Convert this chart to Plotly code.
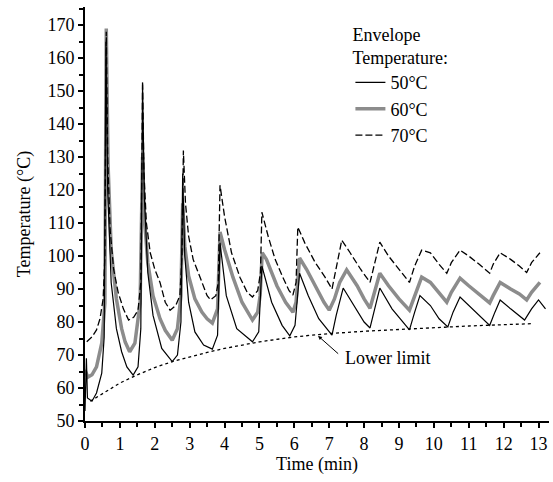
import plotly.graph_objects as go

# values (time in min, temperature in °C)
t50 = [0, 0.04, 0.07, 0.2, 0.33, 0.48, 0.55, 0.6, 0.65, 0.75, 0.9, 1.05, 1.2, 1.38, 1.52, 1.6, 1.65, 1.7,
       1.8, 1.95, 2.2, 2.5, 2.65, 2.75, 2.8, 2.86, 2.97, 3.15, 3.4, 3.65, 3.8, 3.87, 4.05, 4.35, 4.8,
       4.98, 5.07, 5.35, 5.65, 5.87, 6.02, 6.15, 6.4, 6.7, 7.08, 7.2, 7.4, 7.7, 8.0, 8.17, 8.3, 8.45,
       8.8, 9.3, 9.45, 9.6, 9.9, 10.15, 10.4, 10.55, 10.75, 11.0, 11.3, 11.6, 11.75, 11.9, 12.2, 12.45,
       12.6, 12.8, 13.0, 13.2]
temp50 = [53, 69, 57, 56, 58.5, 64.5, 75.5, 165, 120, 92, 78, 71, 66.4, 63.9, 66.4, 78, 152, 118,
          95, 82, 72, 68, 70, 80, 125, 100, 86, 77, 73, 71.8, 76, 104, 88, 78, 74,
          77, 97, 86, 79, 75.8, 79, 94.8, 88, 81, 76, 82, 90.3, 85, 80, 78.2, 84, 90.3,
          84, 77.6, 83, 88, 85, 81, 78.5, 83, 87.6, 85, 82, 79, 83, 86.7, 84, 82,
          80.6, 84, 86.7, 84]

t60 = [0, 0.08, 0.2, 0.33, 0.48, 0.57, 0.61, 0.66, 0.75, 0.9, 1.05, 1.15, 1.28, 1.43, 1.58, 1.65, 1.7,
       1.8, 1.95, 2.15, 2.3, 2.5, 2.65, 2.75, 2.8, 2.86, 2.97, 3.15, 3.35, 3.5, 3.65, 3.8, 3.87, 4.0,
       4.24, 4.5, 4.8, 4.95, 5.02, 5.08, 5.2, 5.5, 5.75, 5.96, 6.05, 6.15, 6.35, 6.6, 6.85, 7.0, 7.15,
       7.3, 7.5, 7.8, 8.0, 8.17, 8.3, 8.45, 8.7, 9.0, 9.3, 9.45, 9.65, 9.9, 10.15, 10.37, 10.5, 10.75,
       11.0, 11.3, 11.6, 11.7, 11.9, 12.2, 12.45, 12.66, 12.8, 13.04]
temp60 = [65.5, 63.3, 64, 66.4, 73.6, 85.8, 169, 128, 102, 87, 78, 74, 71, 73.6, 85.8, 130, 112,
          98, 88, 81, 77.5, 74.5, 78, 88, 116, 103, 94, 87, 83, 81, 79.7, 84, 107.3, 102,
          93.6, 86, 80.6, 83, 88, 101, 99, 91, 86, 83, 86, 99.4, 96, 91, 86, 83.6, 87,
          92, 95.8, 91, 87, 84.2, 89, 94.8, 91, 87, 83.6, 88, 93.6, 92, 89, 86, 89, 93.3,
          91, 88.5, 85.8, 88, 92, 90, 88.5, 86.7, 89, 92]

t70 = [0.05, 0.2, 0.33, 0.43, 0.52, 0.57, 0.61, 0.65, 0.72, 0.82, 0.95, 1.1, 1.25, 1.4, 1.52, 1.6, 1.65,
       1.69, 1.76, 1.87, 2.0, 2.15, 2.3, 2.44, 2.6, 2.72, 2.78, 2.82, 2.88, 2.97, 3.1, 3.3, 3.5, 3.6,
       3.75, 3.82, 3.87, 4.0, 4.2, 4.44, 4.65, 4.8, 4.95, 5.03, 5.07, 5.25, 5.45, 5.67, 5.85, 5.96,
       6.05, 6.1, 6.3, 6.6, 6.88, 7.08, 7.18, 7.36, 7.6, 7.9, 8.17, 8.3, 8.45, 8.7, 9.0, 9.3, 9.45,
       9.65, 9.9, 10.15, 10.37, 10.5, 10.75, 11.0, 11.3, 11.6, 11.7, 11.9, 12.2, 12.45, 12.66, 12.8, 13.04]
temp70 = [74, 75.5, 77.6, 81, 87, 100, 168, 130, 108, 96, 89, 84, 80.6, 81.5, 83.6, 92, 153,
          125, 110, 101, 96, 92, 86, 83.6, 85, 88, 100, 132, 116, 106, 99, 93.6, 88, 86.7,
          88, 92, 121.5, 112, 101, 93.6, 89, 87.6, 89.5, 95, 113.3, 106, 99, 93.6, 89.5, 88.2,
          92, 108.8, 104, 98, 93.6, 90, 95, 104.8, 101, 96, 92, 98, 104.2, 100, 96, 92, 97,
          101.8, 101, 97.5, 94.8, 98, 101.8, 100, 97.5, 94.8, 97.5, 101, 99, 97, 95, 98, 101]

t_limit = [0.15, 0.5, 1, 1.5, 2, 2.5, 3, 3.5, 4, 4.5, 5, 6, 7, 8, 9, 10, 11, 12, 12.8]
temp_limit = [56, 58.3, 61.5, 64, 66.2, 68, 69.5, 70.8, 72, 73, 74, 75.5, 76.5, 77.2, 77.8, 78.3, 78.8, 79.2, 79.5]

serif = "'Liberation Serif', 'Times New Roman', Times, serif"
txt = dict(family=serif, size=18, color="black")

fig = go.Figure()
fig.add_trace(go.Scatter(x=t_limit, y=temp_limit, mode="lines", showlegend=False,
                         line=dict(color="black", width=1.3, dash="dot")))
fig.add_trace(go.Scatter(x=t60, y=temp60, mode="lines", name="60°C", legendrank=2,
                         line=dict(color="#8c8c8c", width=3.5)))
fig.add_trace(go.Scatter(x=t50, y=temp50, mode="lines", name="50°C", legendrank=1,
                         line=dict(color="black", width=1.2)))
fig.add_trace(go.Scatter(x=t70, y=temp70, mode="lines", name="70°C", legendrank=3,
                         line=dict(color="black", width=1.3, dash="7px,3px")))

fig.add_annotation(x=8.68, y=69, text="Lower limit", showarrow=False, font=txt)
fig.add_annotation(x=6.68, y=75.8, ax=7.3, ay=70, axref="x", ayref="y", text="",
                   showarrow=True, arrowhead=2, arrowsize=0.8, arrowwidth=1, arrowcolor="black")

axis_common = dict(showline=True, linecolor="black", linewidth=2, ticks="outside",
                   ticklen=5, tickwidth=1.5, tickcolor="black", showgrid=False, zeroline=False,
                   tickfont=txt, automargin=False)

fig.update_xaxes(range=[0, 13.3], dtick=1, tick0=0,
                 minor=dict(dtick=0.5, ticks="outside", ticklen=4, tickcolor="black"),
                 title=dict(text="Time (min)", font=txt, standoff=4),
                 **axis_common)
fig.update_yaxes(range=[50, 175.5], dtick=10, tick0=50,
                 minor=dict(dtick=5, ticks="outside", ticklen=4, tickcolor="black"),
                 title=dict(text="Temperature (°C)", font=txt, standoff=12),
                 **axis_common)

fig.update_layout(
    width=553, height=482,
    margin=dict(l=85, r=4, t=7, b=61),
    plot_bgcolor="white", paper_bgcolor="white",
    legend=dict(x=0.572, y=0.975, xanchor="left", yanchor="top",
                title=dict(text="Envelope<br>Temperature:", font=txt),
                font=txt, bgcolor="rgba(0,0,0,0)", tracegroupgap=0),
)

# drop the browser's default page margin so the figure sits at the top-left corner
fig.write_html("out.html", config={"displayModeBar": False},
               post_script="document.body.style.margin='0';")
